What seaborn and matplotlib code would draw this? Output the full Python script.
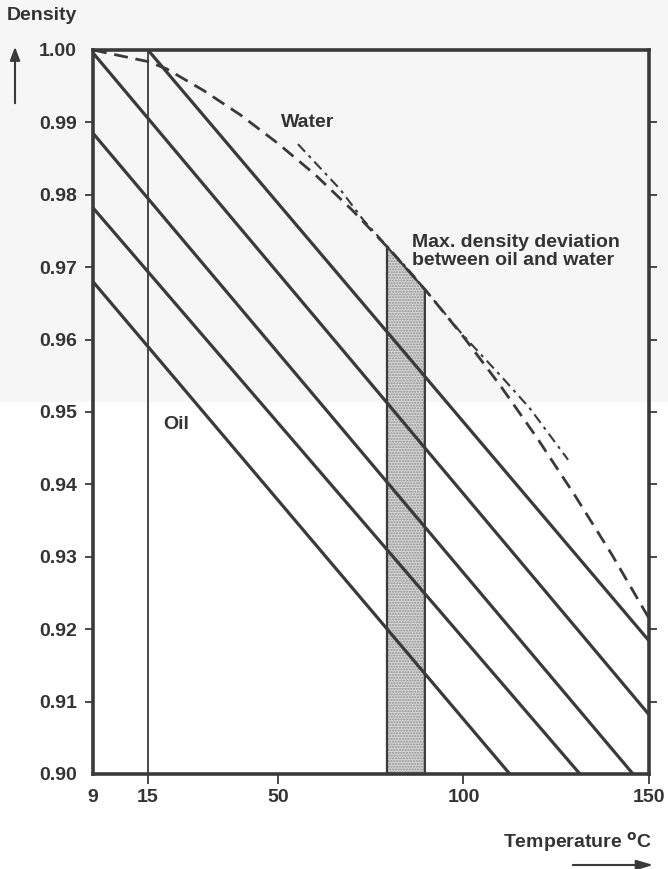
import numpy as np
import pandas as pd
import matplotlib
matplotlib.use("Agg")
import matplotlib.pyplot as plt
from matplotlib.patches import Rectangle, FancyArrowPatch
import seaborn as sns

# axis ticks
temp_ticks = [9, 15, 50, 100, 150]
dens_ticks = [0.90, 0.91, 0.92, 0.93, 0.94, 0.95, 0.96, 0.97, 0.98, 0.99, 1.00]

# oil lines (start / end points)
oil_t0 = [15, 9, 9, 9, 9]
oil_d0 = [1.000, 0.9996, 0.9885, 0.9782, 0.9680]
oil_t1 = [150, 150, 145.7, 131.4, 112.5]
oil_d1 = [0.9184, 0.9082, 0.900, 0.900, 0.900]

# water density curve (dashed)
water_t = [9, 15, 20, 30, 40, 50, 60, 70, 80, 90, 100, 110, 120, 130, 140, 150]
water_d = [1.000, 0.9984, 0.9974, 0.9944, 0.9910, 0.9871, 0.9828, 0.9779, 0.9725,
           0.9667, 0.9604, 0.9536, 0.9463, 0.9385, 0.9303, 0.9215]

# second water curve (dash-dot)
water2_t = [55.4, 66.7, 72.9, 85.6, 99.9, 110.4, 117.9, 128.2]
water2_d = [0.9870, 0.9808, 0.9766, 0.9694, 0.9606, 0.9548, 0.9505, 0.9434]

# shaded band of max deviation
band_t = [79.4, 89.6]

ink = "#3a3a3a"
txt = "#333333"

sns.set_style("ticks")
plt.rcParams["font.family"] = ["Liberation Sans", "DejaVu Sans"]
plt.rcParams["font.weight"] = "bold"

fig = plt.figure(figsize=(6.68, 8.69), dpi=100)
# faint grey of the scanned upper half
fig.patches.append(Rectangle((0, 1 - 402 / 869), 1, 402 / 869, transform=fig.transFigure,
                             facecolor="#f6f6f6", edgecolor="none", zorder=-5))
ax = fig.add_axes([93 / 668, 1 - 774 / 869, 556 / 668, 724 / 869])
ax.set_facecolor("none")

# broken temperature axis: 9..15 is stretched
kT = [9, 15, 150]
kP = [0, 55, 556]
ax.set_xscale("function", functions=(lambda x: np.interp(x, kT, kP),
                                     lambda p: np.interp(p, kP, kT)))

# oil lines
rows = []
for i in range(len(oil_t0)):
    rows.append({"line": i, "temp": oil_t0[i], "dens": oil_d0[i]})
    rows.append({"line": i, "temp": oil_t1[i], "dens": oil_d1[i]})
oil_df = pd.DataFrame(rows)
sns.lineplot(data=oil_df, x="temp", y="dens", units="line", estimator=None,
             color=ink, linewidth=2.3, ax=ax)

# vertical line at 15 C
ax.axvline(15, color=ink, linewidth=1.3)

# water curves
sns.lineplot(x=water_t, y=water_d, color=ink, linewidth=2.0, ax=ax)
ax.lines[-1].set_dashes((5, 2.8))
sns.lineplot(x=water2_t, y=water2_d, color=ink, linewidth=1.5, ax=ax)
ax.lines[-1].set_dashes((5, 2.5, 1.5, 2.5))

# shaded deviation band
band_top = np.interp(band_t, water_t, water_d)
ax.fill_between(band_t, band_top, 0.90, facecolor="#d6d6d6", edgecolor="#8f8f8f",
                hatch="......", linewidth=0, zorder=1)
ax.fill_between(band_t, band_top, 0.90, facecolor="none", edgecolor=ink,
                linewidth=1.6, zorder=2)

ax.set_xlim(9, 150)
ax.set_ylim(0.90, 1.00)
ax.set_xticks(temp_ticks)
ax.set_xticklabels([str(t) for t in temp_ticks])
ax.set_yticks(dens_ticks)
ax.set_yticklabels([f"{d:.2f}" for d in dens_ticks])
ax.set_xlabel("")
ax.set_ylabel("")

for s in ax.spines.values():
    s.set_linewidth(2.6)
    s.set_color(ink)

ax.tick_params(axis="x", direction="out", length=7, width=1.3, color=ink, pad=3.5,
               labelsize=14, labelcolor=txt)
ax.tick_params(axis="y", direction="out", length=6, width=1.3, color=ink, pad=5.5,
               labelsize=14, labelcolor=txt, right=True, labelright=False)
for lab in ax.get_xticklabels() + ax.get_yticklabels():
    lab.set_fontweight("bold")

# corner ticks are not drawn
xt = ax.xaxis.get_major_ticks()
xt[0].tick1line.set_visible(False)
yt = ax.yaxis.get_major_ticks()
for t in (yt[0], yt[-1]):
    t.tick1line.set_visible(False)
    t.tick2line.set_visible(False)

# annotations
ax.text(50.8, 0.9900, "Water", fontsize=14, fontweight="bold", color=txt, va="center")
ax.text(19.0, 0.9483, "Oil", fontsize=14, fontweight="bold", color=txt, va="center")
ax.text(86.1, 0.9722, "Max. density deviation\nbetween oil and water", fontsize=14,
        fontweight="bold", color=txt, va="center", linespacing=1.1)

# axis names with arrows
fig.text(7 / 668, 1 - 15 / 869, "Density", fontsize=14, fontweight="bold", color=txt,
         ha="left", va="center")
fig.text(652 / 668, 1 - 842 / 869, "Temperature $^{\\mathbf{o}}$C", fontsize=14,
         fontweight="bold", color=txt, ha="right", va="center")
fig.patches.append(FancyArrowPatch(
    (15 / 668, 1 - 106 / 869), (15 / 668, 1 - 44 / 869), transform=fig.transFigure,
    arrowstyle="-|>,head_length=8,head_width=3", color=ink, linewidth=1.5))
fig.patches.append(FancyArrowPatch(
    (570 / 668, 1 - 865 / 869), (656 / 668, 1 - 865 / 869), transform=fig.transFigure,
    arrowstyle="-|>,head_length=10,head_width=3", color=ink, linewidth=1.5))

fig.savefig("out.png", dpi=100)
